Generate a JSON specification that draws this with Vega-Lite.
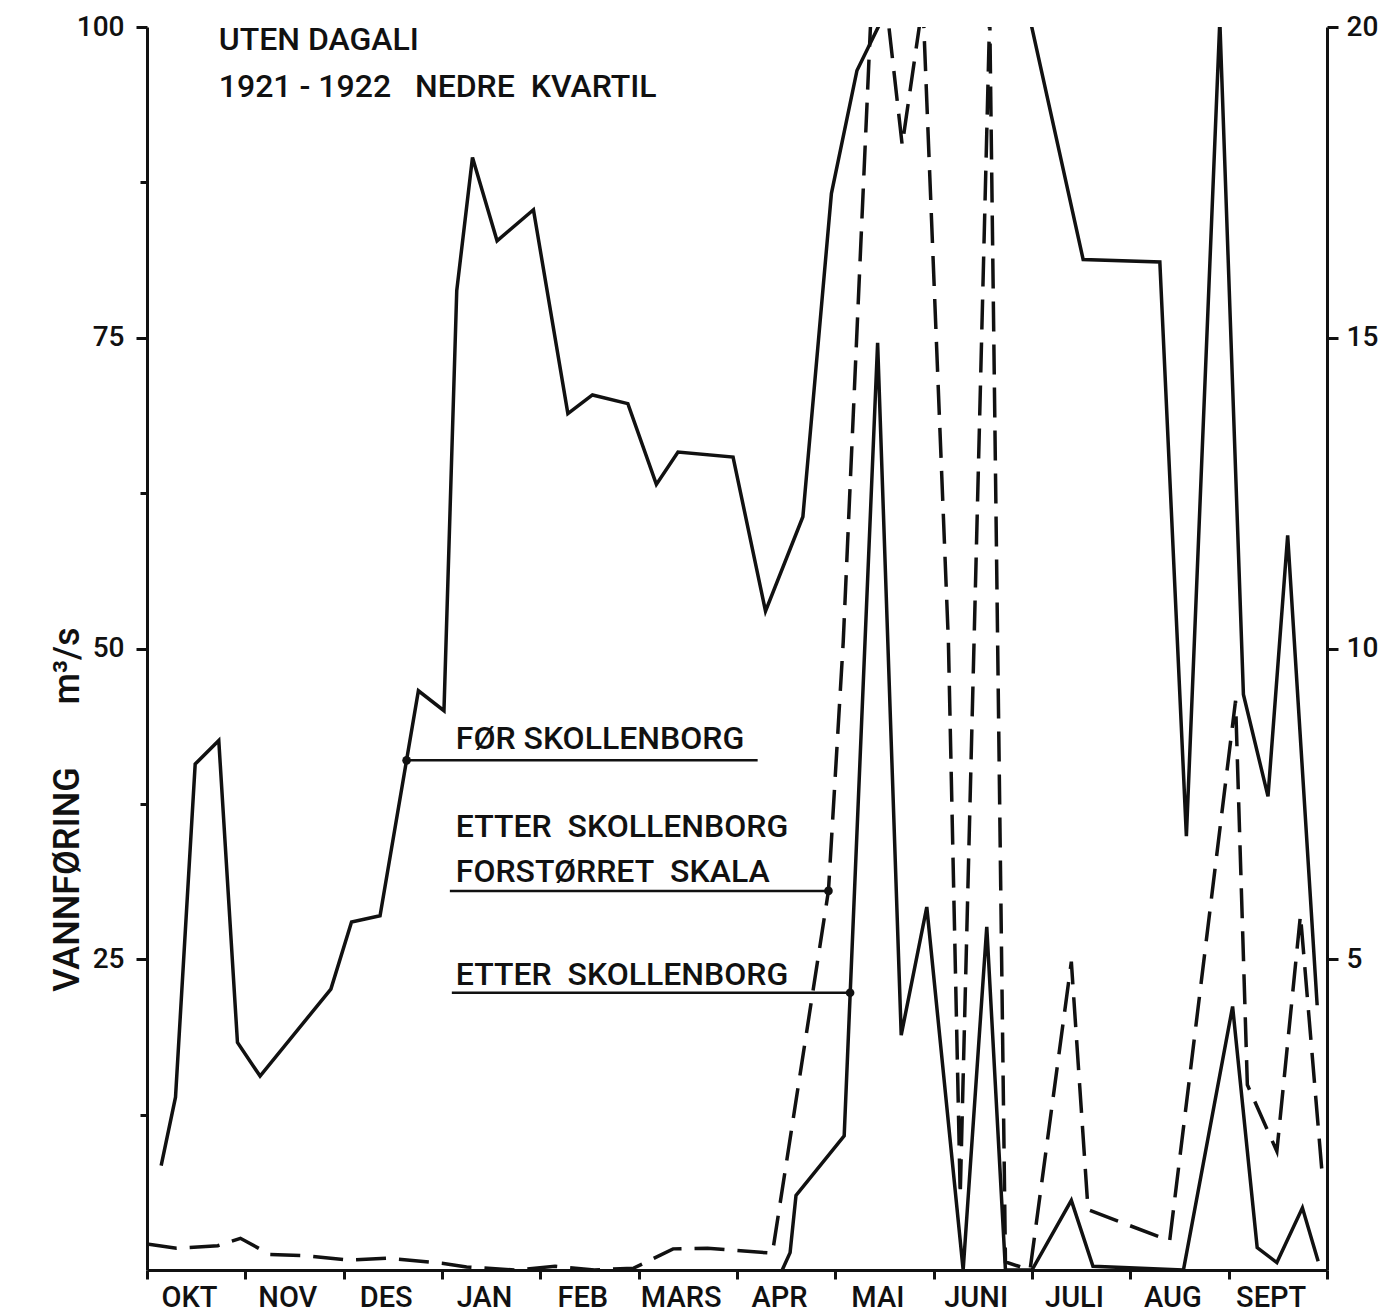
{
  "$schema": "https://vega.github.io/schema/vega-lite/v6.json",
  "width": 1180,
  "height": 1243,
  "autosize": "none",
  "padding": {"left": 147, "top": 27, "right": 69, "bottom": 43},
  "background": "#ffffff",
  "config": {
    "view": {"stroke": null},
    "font": "Roboto",
    "axis": {
      "grid": false,
      "domainColor": "#111111",
      "domainWidth": 3,
      "tickColor": "#111111",
      "tickWidth": 3,
      "labelColor": "#111111",
      "labelFont": "Roboto",
      "labelFontSize": 28,
      "labelFontWeight": 500,
      "labelFlush": false,
      "labelOverlap": false,
      "titleColor": "#111111"
    }
  },
  "datasets": {
    "flow": [
      {"station": "FØR SKOLLENBORG", "month": 0.144, "flow": 8.4},
      {"station": "FØR SKOLLENBORG", "month": 0.29, "flow": 13.9},
      {"station": "FØR SKOLLENBORG", "month": 0.49, "flow": 40.7},
      {"station": "FØR SKOLLENBORG", "month": 0.73, "flow": 42.6},
      {"station": "FØR SKOLLENBORG", "month": 0.92, "flow": 18.3},
      {"station": "FØR SKOLLENBORG", "month": 1.15, "flow": 15.6},
      {"station": "FØR SKOLLENBORG", "month": 1.87, "flow": 22.6},
      {"station": "FØR SKOLLENBORG", "month": 2.08, "flow": 28.0},
      {"station": "FØR SKOLLENBORG", "month": 2.37, "flow": 28.5},
      {"station": "FØR SKOLLENBORG", "month": 2.76, "flow": 46.6},
      {"station": "FØR SKOLLENBORG", "month": 3.02, "flow": 45.0},
      {"station": "FØR SKOLLENBORG", "month": 3.15, "flow": 78.8},
      {"station": "FØR SKOLLENBORG", "month": 3.31, "flow": 89.5},
      {"station": "FØR SKOLLENBORG", "month": 3.56, "flow": 82.8},
      {"station": "FØR SKOLLENBORG", "month": 3.93, "flow": 85.3},
      {"station": "FØR SKOLLENBORG", "month": 4.28, "flow": 68.9},
      {"station": "FØR SKOLLENBORG", "month": 4.53, "flow": 70.4},
      {"station": "FØR SKOLLENBORG", "month": 4.89, "flow": 69.7},
      {"station": "FØR SKOLLENBORG", "month": 5.18, "flow": 63.2},
      {"station": "FØR SKOLLENBORG", "month": 5.40, "flow": 65.8},
      {"station": "FØR SKOLLENBORG", "month": 5.96, "flow": 65.4},
      {"station": "FØR SKOLLENBORG", "month": 6.29, "flow": 53.0},
      {"station": "FØR SKOLLENBORG", "month": 6.67, "flow": 60.6},
      {"station": "FØR SKOLLENBORG", "month": 6.96, "flow": 86.6},
      {"station": "FØR SKOLLENBORG", "month": 7.22, "flow": 96.5},
      {"station": "FØR SKOLLENBORG", "month": 7.56, "flow": 102},
      {"station": "FØR SKOLLENBORG", "month": 8.83, "flow": 106},
      {"station": "FØR SKOLLENBORG", "month": 9.52, "flow": 81.3},
      {"station": "FØR SKOLLENBORG", "month": 10.30, "flow": 81.1},
      {"station": "FØR SKOLLENBORG", "month": 10.57, "flow": 34.9},
      {"station": "FØR SKOLLENBORG", "month": 10.91, "flow": 100.5},
      {"station": "FØR SKOLLENBORG", "month": 11.15, "flow": 46.3},
      {"station": "FØR SKOLLENBORG", "month": 11.40, "flow": 38.1},
      {"station": "FØR SKOLLENBORG", "month": 11.60, "flow": 59.1},
      {"station": "FØR SKOLLENBORG", "month": 11.90, "flow": 21.3},
      {"station": "ETTER SKOLLENBORG", "month": 6.46, "flow": 0},
      {"station": "ETTER SKOLLENBORG", "month": 6.54, "flow": 1.4},
      {"station": "ETTER SKOLLENBORG", "month": 6.60, "flow": 6.0},
      {"station": "ETTER SKOLLENBORG", "month": 7.09, "flow": 10.8},
      {"station": "ETTER SKOLLENBORG", "month": 7.43, "flow": 74.6},
      {"station": "ETTER SKOLLENBORG", "month": 7.67, "flow": 18.9},
      {"station": "ETTER SKOLLENBORG", "month": 7.93, "flow": 29.2},
      {"station": "ETTER SKOLLENBORG", "month": 8.30, "flow": 0},
      {"station": "ETTER SKOLLENBORG", "month": 8.54, "flow": 27.6},
      {"station": "ETTER SKOLLENBORG", "month": 8.73, "flow": 0},
      {"station": "ETTER SKOLLENBORG", "month": 9.00, "flow": 0},
      {"station": "ETTER SKOLLENBORG", "month": 9.40, "flow": 5.6},
      {"station": "ETTER SKOLLENBORG", "month": 9.62, "flow": 0.3},
      {"station": "ETTER SKOLLENBORG", "month": 10.54, "flow": 0},
      {"station": "ETTER SKOLLENBORG", "month": 11.04, "flow": 21.2},
      {"station": "ETTER SKOLLENBORG", "month": 11.29, "flow": 1.8},
      {"station": "ETTER SKOLLENBORG", "month": 11.49, "flow": 0.6},
      {"station": "ETTER SKOLLENBORG", "month": 11.75, "flow": 5.0},
      {"station": "ETTER SKOLLENBORG", "month": 11.91, "flow": 0.7}
    ],
    "enlarged": [
      {"month": 0.00, "flow": 0.42},
      {"month": 0.30, "flow": 0.35},
      {"month": 0.72, "flow": 0.39},
      {"month": 0.95, "flow": 0.51},
      {"month": 1.25, "flow": 0.25},
      {"month": 1.60, "flow": 0.23},
      {"month": 2.05, "flow": 0.16},
      {"month": 2.45, "flow": 0.19},
      {"month": 3.00, "flow": 0.11},
      {"month": 3.25, "flow": 0.05},
      {"month": 3.75, "flow": 0.0},
      {"month": 4.15, "flow": 0.06},
      {"month": 4.55, "flow": 0.0},
      {"month": 4.95, "flow": 0.03},
      {"month": 5.35, "flow": 0.34},
      {"month": 5.70, "flow": 0.35},
      {"month": 6.36, "flow": 0.27},
      {"month": 6.93, "flow": 6.1},
      {"month": 7.08, "flow": 10.1},
      {"month": 7.41, "flow": 21.9},
      {"month": 7.68, "flow": 18.1},
      {"month": 7.89, "flow": 20.4},
      {"month": 8.15, "flow": 10.1},
      {"month": 8.27, "flow": 1.2},
      {"month": 8.57, "flow": 20.2},
      {"month": 8.73, "flow": 0.13},
      {"month": 8.98, "flow": 0.0},
      {"month": 9.40, "flow": 4.96},
      {"month": 9.57, "flow": 0.97},
      {"month": 10.40, "flow": 0.47},
      {"month": 11.07, "flow": 9.16},
      {"month": 11.19, "flow": 2.98},
      {"month": 11.49, "flow": 1.91},
      {"month": 11.73, "flow": 5.71},
      {"month": 11.95, "flow": 1.56}
    ],
    "labels": [
      {"text": "UTEN\u00a0DAGALI", "month": 0.73, "flow": 98.15},
      {"text": "1921\u00a0-\u00a01922\u00a0\u00a0\u00a0NEDRE\u00a0\u00a0KVARTIL", "month": 0.73, "flow": 94.4},
      {"text": "FØR\u00a0SKOLLENBORG", "month": 3.14, "flow": 41.9},
      {"text": "ETTER\u00a0\u00a0SKOLLENBORG", "month": 3.14, "flow": 34.8},
      {"text": "FORSTØRRET\u00a0\u00a0SKALA", "month": 3.14, "flow": 31.2},
      {"text": "ETTER\u00a0\u00a0SKOLLENBORG", "month": 3.14, "flow": 22.9}
    ],
    "callouts": [
      {"scale": "left", "from": 2.64, "to": 6.21, "dot": 2.64, "flow": 41.0},
      {"scale": "right", "from": 3.08, "to": 6.93, "dot": 6.93, "flow": 6.1},
      {"scale": "left", "from": 3.10, "to": 7.15, "dot": 7.15, "flow": 22.3}
    ]
  },
  "layer": [
    {
      "layer": [
        {
          "data": {"name": "flow"},
          "mark": {"type": "line", "color": "#111111", "strokeWidth": 3.5, "clip": true},
          "encoding": {
            "x": {
              "field": "month",
              "type": "quantitative",
              "scale": {"domain": [0, 12], "nice": false, "zero": false},
              "axis": {
                "values": [0, 1, 2, 3, 4, 5, 6, 7, 8, 9, 10, 11, 12],
                "labelExpr": "datum.value == 0 ? 'OKT' : datum.value == 1 ? 'NOV' : datum.value == 2 ? 'DES' : datum.value == 3 ? 'JAN' : datum.value == 4 ? 'FEB' : datum.value == 5 ? 'MARS' : datum.value == 6 ? 'APR' : datum.value == 7 ? 'MAI' : datum.value == 8 ? 'JUNI' : datum.value == 9 ? 'JULI' : datum.value == 10 ? 'AUG' : datum.value == 11 ? 'SEPT' : ''",
                "labelOffset": 42,
                "labelPadding": 4,
                "labelFontSize": 29,
                "tickSize": 9,
                "title": null
              }
            },
            "y": {
              "field": "flow",
              "type": "quantitative",
              "scale": {"domain": [0, 100], "nice": false},
              "axis": {
                "values": [12.5, 25, 37.5, 50, 62.5, 75, 87.5, 100],
                "labelExpr": "datum.value % 25 == 0 ? format(datum.value, 'd') : ''",
                "tickSize": {"condition": {"test": "datum.value % 25 == 0", "value": 11}, "value": 7},
                "labelPadding": 12,
                "title": "VANNFØRING\u00a0\u00a0\u00a0\u00a0\u00a0\u00a0\u00a0m³/s",
                "titleFont": "Roboto",
                "titleFontSize": 36,
                "titleFontWeight": 500,
                "titleAngle": 270,
                "titleAlign": "center",
                "titleBaseline": "middle",
                "titleX": -80,
                "titleY": 782
              }
            },
            "detail": {"field": "station", "type": "nominal"}
          }
        },
        {
          "data": {"name": "labels"},
          "mark": {"type": "text", "align": "left", "baseline": "alphabetic", "fontSize": 32, "fontWeight": 500, "color": "#111111", "font": "Roboto"},
          "encoding": {
            "x": {"field": "month", "type": "quantitative", "scale": {"domain": [0, 12], "nice": false, "zero": false}},
            "y": {"field": "flow", "type": "quantitative", "scale": {"domain": [0, 100], "nice": false}},
            "text": {"field": "text", "type": "nominal"}
          }
        },
        {
          "data": {"name": "callouts"},
          "transform": [{"filter": "datum.scale == 'left'"}],
          "mark": {"type": "rule", "color": "#111111", "strokeWidth": 2.5},
          "encoding": {
            "x": {"field": "from", "type": "quantitative", "scale": {"domain": [0, 12], "nice": false, "zero": false}},
            "x2": {"field": "to"},
            "y": {"field": "flow", "type": "quantitative", "scale": {"domain": [0, 100], "nice": false}}
          }
        },
        {
          "data": {"name": "callouts"},
          "transform": [{"filter": "datum.scale == 'left'"}],
          "mark": {"type": "point", "filled": true, "size": 75, "color": "#111111", "opacity": 1},
          "encoding": {
            "x": {"field": "dot", "type": "quantitative", "scale": {"domain": [0, 12], "nice": false, "zero": false}},
            "y": {"field": "flow", "type": "quantitative", "scale": {"domain": [0, 100], "nice": false}}
          }
        }
      ]
    },
    {
      "layer": [
        {
          "data": {"name": "enlarged"},
          "mark": {"type": "line", "color": "#111111", "strokeWidth": 3.5, "strokeDash": [30, 13], "clip": true},
          "encoding": {
            "x": {"field": "month", "type": "quantitative", "scale": {"domain": [0, 12], "nice": false, "zero": false}},
            "y": {
              "field": "flow",
              "type": "quantitative",
              "scale": {"domain": [0, 20], "nice": false},
              "axis": {
                "orient": "right",
                "values": [5, 10, 15, 20],
                "format": "d",
                "tickSize": 11,
                "labelPadding": 8,
                "title": null
              }
            }
          }
        },
        {
          "data": {"name": "callouts"},
          "transform": [{"filter": "datum.scale == 'right'"}],
          "mark": {"type": "rule", "color": "#111111", "strokeWidth": 2.5},
          "encoding": {
            "x": {"field": "from", "type": "quantitative", "scale": {"domain": [0, 12], "nice": false, "zero": false}},
            "x2": {"field": "to"},
            "y": {"field": "flow", "type": "quantitative", "scale": {"domain": [0, 20], "nice": false}}
          }
        },
        {
          "data": {"name": "callouts"},
          "transform": [{"filter": "datum.scale == 'right'"}],
          "mark": {"type": "point", "filled": true, "size": 75, "color": "#111111", "opacity": 1},
          "encoding": {
            "x": {"field": "dot", "type": "quantitative", "scale": {"domain": [0, 12], "nice": false, "zero": false}},
            "y": {"field": "flow", "type": "quantitative", "scale": {"domain": [0, 20], "nice": false}}
          }
        }
      ]
    }
  ],
  "resolve": {"scale": {"y": "independent"}}
}
